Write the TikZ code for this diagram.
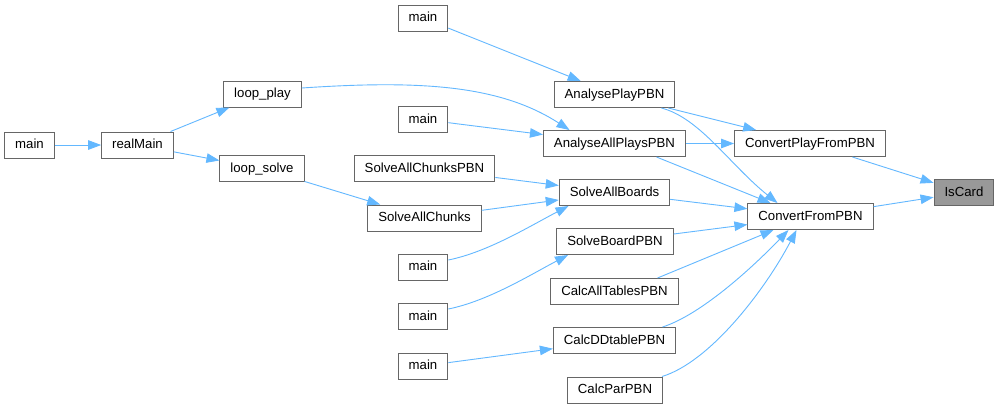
\documentclass[tikz,border=0pt]{standalone}
\usepackage{fontspec}
\setmainfont{Liberation Sans}
\usetikzlibrary{arrows.meta,calc}
\definecolor{edgeblue}{HTML}{63B8FF}
\definecolor{boxgray}{HTML}{666666}
\definecolor{cardfill}{HTML}{999999}
\begin{document}
\begin{tikzpicture}[x=1pt,y=-1pt,
 fn/.style={draw=boxgray, line width=1pt, fill=white, inner xsep=10.5pt, inner ysep=0pt,
   minimum height=26pt, text height=9.6pt, text depth=2.6pt,
   font=\fontsize{13.2}{15}\selectfont, anchor=center},
 hl/.style={fn, fill=cardfill},
 call/.style={draw=edgeblue, line width=0.9pt, -{Triangle[length=13pt,width=9.5pt]}}]
\useasboundingbox[fill=white] (0,0) rectangle (1000,408);

\node[fn] (m1) at (29.5,145) {main};
\node[fn] (realMain) at (137.5,145) {realMain};
\node[fn] (loopplay) at (262.5,94) {loop\_play};
\node[fn] (loopsolve) at (262,168.5) {loop\_solve};
\node[fn] (m2) at (423,18) {main};
\node[fn] (APP) at (614.5,94.5) {AnalysePlayPBN};
\node[fn] (m3) at (423,119.5) {main};
\node[fn] (AAPP) at (614.5,143.5) {AnalyseAllPlaysPBN};
\node[fn] (SACP) at (424.5,168.5) {SolveAllChunksPBN};
\node[fn] (SAB) at (614.5,192.5) {SolveAllBoards};
\node[fn] (SAC) at (424.5,218) {SolveAllChunks};
\node[fn] (SBP) at (615,241.5) {SolveBoardPBN};
\node[fn] (m4) at (423,267) {main};
\node[fn] (CATP) at (614.5,291.5) {CalcAllTablesPBN};
\node[fn] (m5) at (423,316.5) {main};
\node[fn] (CDDP) at (614.5,340.5) {CalcDDtablePBN};
\node[fn] (m6) at (423,366) {main};
\node[fn] (CPP) at (615,390) {CalcParPBN};
\node[fn] (CPFP) at (810,143.5) {ConvertPlayFromPBN};
\node[fn] (CFP) at (810.5,216.5) {ConvertFromPBN};
\node[hl] (IsCard) at (964,192.5) {IsCard};

\draw[call] (m1) -- (realMain);
\draw[call] (realMain) -- (loopplay);
\draw[call] (realMain) -- (loopsolve);
\draw[call] ($(loopplay.east)+(0,-6)$) .. controls (420,80) and (500,85) .. ($(AAPP.north)+(-45,0)$);
\draw[call] (loopsolve) -- (SAC);
\draw[call] (m2) -- (APP);
\draw[call] (m3) -- (AAPP);
\draw[call] (SACP) -- (SAB);
\draw[call] (SAC) -- (SAB);
\draw[call] ($(m4.east)+(0,-7)$) .. controls (488,252) and (530,226) .. ($(SAB.south)+(-46,0)$);
\draw[call] ($(m5.east)+(0,-7.5)$) .. controls (488,301) and (530,275) .. ($(SBP.south)+(-47,0)$);
\draw[call] (m6) -- (CDDP);
\draw[call] (APP) -- (CPFP);
\draw[call] ($(APP.south east)+(-14,0)$) .. controls (700,118) and (730,165) .. ($(CFP.north)+(-33,0)$);
\draw[call] (AAPP) -- (CPFP);
\draw[call] ($(AAPP.south)+(42,0)$) -- ($(CFP.north)+(-40,0)$);
\draw[call] (SAB) -- (CFP);
\draw[call] (SBP) -- (CFP);
\draw[call] ($(CATP.north)+(43,0)$) -- ($(CFP.south)+(-37,0)$);
\draw[call] ($(CDDP.north)+(48,0)$) .. controls (700,315) and (750,270) .. ($(CFP.south)+(-22,0)$);
\draw[call] ($(CPP.north)+(47,0)$) .. controls (710,362) and (765,290) .. ($(CFP.south)+(-14,0)$);
\draw[call] (CPFP) -- (IsCard);
\draw[call] (CFP) -- (IsCard);
\end{tikzpicture}
\end{document}
